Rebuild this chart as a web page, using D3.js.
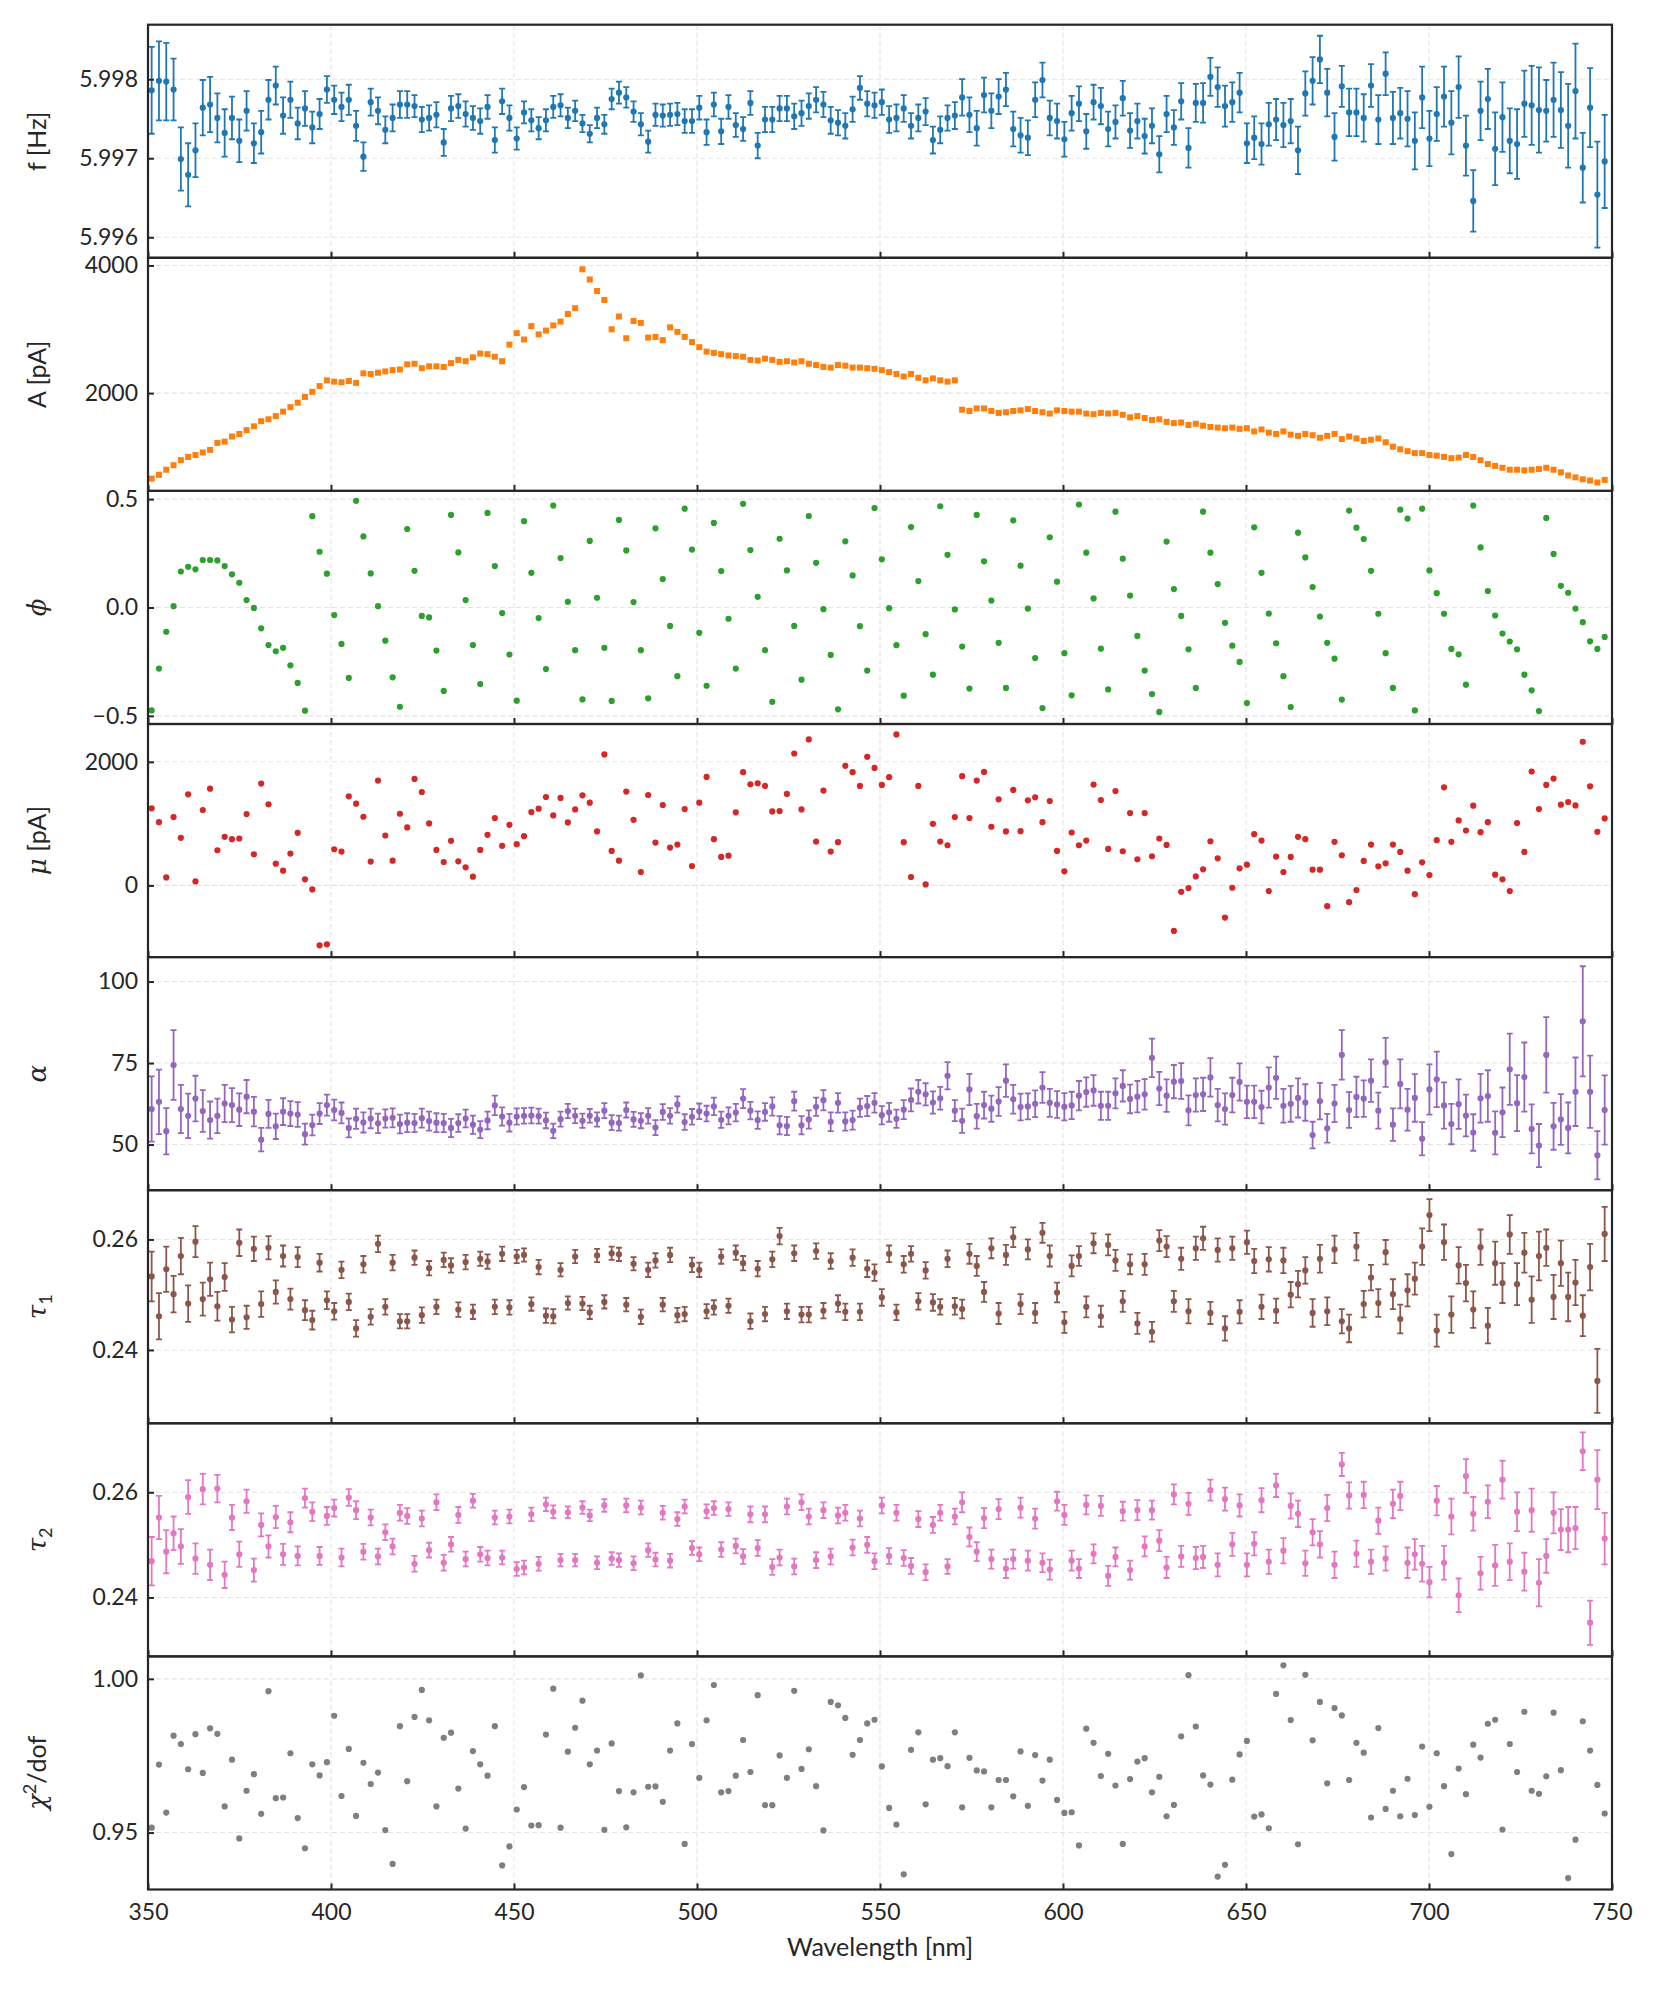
<!DOCTYPE html>
<html>
<head>
<meta charset="utf-8">
<script src="https://cdn.jsdelivr.net/npm/d3@7"></script>
<style>
  html, body { margin: 0; padding: 0; background: #fff; }
  svg { display: block; }
  .tick text { font-family: Lato, "Open Sans", sans-serif; font-size: 23px; fill: #262626; }
</style>
</head>
<body>
<svg id="chart" width="1661" height="1993"></svg>
<script>
// sampling grid, 200 wavelengths between 351 and 748 nm
var wavelengths = d3.range(200).map(function(i) { return 351 + i * 397 / 199; });

var xTicks = [350, 400, 450, 500, 550, 600, 650, 700, 750];

// f [Hz]
var freq = [
  5.99786, 5.99798, 5.99797, 5.99787, 5.99699, 5.99679, 5.99710, 5.99764, 5.99768, 5.99751,
  5.99732, 5.99751, 5.99722, 5.99760, 5.99719, 5.99733, 5.99774, 5.99792, 5.99754, 5.99774,
  5.99744, 5.99763, 5.99739, 5.99756, 5.99787, 5.99774, 5.99765, 5.99774, 5.99741, 5.99702,
  5.99771, 5.99760, 5.99736, 5.99751, 5.99768, 5.99768, 5.99766, 5.99749, 5.99751, 5.99755,
  5.99720, 5.99763, 5.99766, 5.99756, 5.99751, 5.99747, 5.99765, 5.99723, 5.99772, 5.99751,
  5.99725, 5.99758, 5.99748, 5.99738, 5.99748, 5.99765, 5.99767, 5.99751, 5.99760, 5.99744,
  5.99731, 5.99751, 5.99743, 5.99775, 5.99783, 5.99777, 5.99759, 5.99743, 5.99721, 5.99755,
  5.99754, 5.99755, 5.99756, 5.99747, 5.99747, 5.99764, 5.99733, 5.99768, 5.99734, 5.99765,
  5.99742, 5.99737, 5.99770, 5.99716, 5.99749, 5.99749, 5.99763, 5.99763, 5.99753, 5.99757,
  5.99766, 5.99774, 5.99768, 5.99748, 5.99745, 5.99741, 5.99762, 5.99789, 5.99769, 5.99767,
  5.99771, 5.99749, 5.99751, 5.99763, 5.99741, 5.99751, 5.99759, 5.99723, 5.99736, 5.99751,
  5.99754, 5.99777, 5.99755, 5.99738, 5.99780, 5.99760, 5.99778, 5.99787, 5.99737, 5.99729,
  5.99726, 5.99774, 5.99799, 5.99751, 5.99747, 5.99724, 5.99757, 5.99769, 5.99734, 5.99771,
  5.99766, 5.99737, 5.99746, 5.99776, 5.99735, 5.99747, 5.99728, 5.99741, 5.99705, 5.99756,
  5.99739, 5.99772, 5.99713, 5.99770, 5.99770, 5.99803, 5.99790, 5.99766, 5.99771, 5.99783,
  5.99719, 5.99726, 5.99718, 5.99743, 5.99749, 5.99742, 5.99747, 5.99710, 5.99782, 5.99798,
  5.99825, 5.99783, 5.99727, 5.99791, 5.99758, 5.99758, 5.99751, 5.99792, 5.99749, 5.99807,
  5.99751, 5.99757, 5.99750, 5.99722, 5.99777, 5.99725, 5.99756, 5.99778, 5.99745, 5.99790,
  5.99716, 5.99646, 5.99760, 5.99775, 5.99712, 5.99752, 5.99722, 5.99718, 5.99769, 5.99767,
  5.99761, 5.99760, 5.99774, 5.99761, 5.99741, 5.99785, 5.99688, 5.99764, 5.99654, 5.99696
];
var freqErr = [
  0.00055, 0.00050, 0.00049, 0.00039, 0.00040, 0.00040, 0.00034, 0.00035, 0.00035, 0.00031,
  0.00030, 0.00027, 0.00027, 0.00025, 0.00025, 0.00027, 0.00025, 0.00024, 0.00023, 0.00023,
  0.00020, 0.00022, 0.00020, 0.00019, 0.00017, 0.00018, 0.00018, 0.00019, 0.00019, 0.00018,
  0.00017, 0.00017, 0.00017, 0.00017, 0.00017, 0.00017, 0.00014, 0.00016, 0.00016, 0.00016,
  0.00017, 0.00016, 0.00015, 0.00016, 0.00015, 0.00016, 0.00015, 0.00016, 0.00016, 0.00016,
  0.00014, 0.00014, 0.00014, 0.00014, 0.00014, 0.00014, 0.00014, 0.00013, 0.00013, 0.00011,
  0.00011, 0.00013, 0.00012, 0.00013, 0.00014, 0.00013, 0.00013, 0.00014, 0.00014, 0.00014,
  0.00014, 0.00014, 0.00014, 0.00015, 0.00015, 0.00015, 0.00016, 0.00015, 0.00016, 0.00015,
  0.00015, 0.00015, 0.00015, 0.00016, 0.00016, 0.00016, 0.00016, 0.00016, 0.00016, 0.00016,
  0.00016, 0.00016, 0.00016, 0.00017, 0.00016, 0.00016, 0.00016, 0.00015, 0.00016, 0.00016,
  0.00016, 0.00017, 0.00017, 0.00017, 0.00016, 0.00017, 0.00017, 0.00017, 0.00017, 0.00016,
  0.00017, 0.00023, 0.00022, 0.00022, 0.00022, 0.00022, 0.00022, 0.00021, 0.00022, 0.00022,
  0.00022, 0.00022, 0.00022, 0.00022, 0.00022, 0.00022, 0.00022, 0.00022, 0.00022, 0.00022,
  0.00023, 0.00022, 0.00021, 0.00022, 0.00022, 0.00022, 0.00022, 0.00022, 0.00023, 0.00023,
  0.00022, 0.00023, 0.00025, 0.00024, 0.00025, 0.00024, 0.00025, 0.00026, 0.00025, 0.00025,
  0.00025, 0.00027, 0.00026, 0.00027, 0.00026, 0.00028, 0.00028, 0.00030, 0.00028, 0.00030,
  0.00030, 0.00030, 0.00030, 0.00026, 0.00030, 0.00030, 0.00030, 0.00027, 0.00031, 0.00027,
  0.00033, 0.00032, 0.00035, 0.00036, 0.00039, 0.00035, 0.00034, 0.00038, 0.00040, 0.00039,
  0.00038, 0.00039, 0.00037, 0.00038, 0.00046, 0.00044, 0.00041, 0.00044, 0.00042, 0.00050,
  0.00054, 0.00039, 0.00047, 0.00048, 0.00053, 0.00060, 0.00044, 0.00050, 0.00067, 0.00059
];

// A [pA]
var amplitude = [
  660, 720, 800, 870, 950, 1000, 1030, 1070, 1110, 1220,
  1240, 1320, 1360, 1420, 1480, 1560, 1590, 1640, 1710, 1780,
  1850, 1940, 2020, 2110, 2200, 2180, 2170, 2190, 2160, 2310,
  2300, 2320, 2340, 2360, 2370, 2450, 2460, 2390, 2420, 2420,
  2410, 2470, 2520, 2500, 2560, 2620, 2610, 2570, 2500, 2760,
  2940, 2840, 3050, 2920, 2980, 3060, 3120, 3240, 3330, 3940,
  3780, 3600, 3460, 3000, 3200, 2860, 3130, 3100, 2870, 2880,
  2830, 3030, 2960, 2880, 2800, 2720, 2650, 2630, 2610, 2590,
  2580, 2570, 2520, 2510, 2540, 2520, 2490, 2500, 2480, 2500,
  2460, 2440, 2410, 2400, 2440, 2430, 2400, 2400, 2390, 2380,
  2360, 2330, 2300, 2260, 2300, 2240, 2200, 2230, 2200, 2180,
  2200, 1740, 1720, 1760, 1760, 1720, 1690, 1700, 1720, 1730,
  1750, 1720, 1700, 1680, 1730, 1720, 1710, 1710, 1680, 1670,
  1690, 1680, 1690, 1660, 1620, 1640, 1610, 1580, 1590, 1550,
  1530, 1540, 1500, 1520, 1490, 1470, 1460, 1450, 1460, 1440,
  1450, 1400, 1430, 1380, 1360, 1400, 1350, 1330, 1360, 1340,
  1300, 1330, 1360, 1280, 1320, 1290, 1250, 1270, 1290, 1230,
  1160, 1120, 1090, 1060, 1060, 1030, 1020, 1000, 980, 990,
  1030, 1000, 950, 890, 860, 830, 800, 800, 790, 800,
  810, 830, 800, 760, 710, 680, 650, 630, 600, 640
];

// phase
var phase = [
  -0.475, -0.282, -0.112, 0.006, 0.166, 0.188, 0.176, 0.219, 0.219, 0.217,
  0.191, 0.153, 0.114, 0.034, -0.002, -0.096, -0.173, -0.202, -0.186, -0.267,
  -0.348, -0.476, 0.421, 0.257, 0.156, -0.035, -0.168, -0.325, 0.492, 0.328,
  0.157, 0.006, -0.153, -0.322, -0.458, 0.362, 0.169, -0.039, -0.046, -0.199,
  -0.385, 0.427, 0.254, 0.034, -0.173, -0.353, 0.436, 0.191, -0.026, -0.217,
  -0.430, 0.398, 0.160, -0.049, -0.284, 0.470, 0.228, 0.026, -0.197, -0.424,
  0.307, 0.045, -0.186, -0.431, 0.404, 0.263, 0.025, -0.197, -0.419, 0.365,
  0.131, -0.085, -0.317, 0.456, 0.267, -0.117, -0.361, 0.390, 0.168, -0.052,
  -0.282, 0.478, 0.265, 0.049, -0.197, -0.435, 0.317, 0.171, -0.085, -0.333,
  0.422, 0.206, -0.008, -0.219, -0.470, 0.305, 0.148, -0.086, -0.291, 0.459,
  0.222, -0.003, -0.174, -0.407, 0.371, 0.122, -0.123, -0.310, 0.467, 0.243,
  -0.009, -0.180, -0.374, 0.427, 0.213, 0.032, -0.163, -0.371, 0.402, 0.193,
  -0.005, -0.233, -0.464, 0.324, 0.119, -0.211, -0.405, 0.475, 0.253, 0.042,
  -0.190, -0.378, 0.442, 0.225, 0.055, -0.131, -0.291, -0.399, -0.482, 0.304,
  0.085, -0.039, -0.193, -0.371, 0.442, 0.253, 0.108, -0.071, -0.176, -0.251,
  -0.441, 0.370, 0.160, -0.028, -0.165, -0.317, -0.459, 0.345, 0.231, 0.094,
  -0.042, -0.163, -0.236, -0.425, 0.447, 0.368, 0.316, 0.169, -0.029, -0.211,
  -0.371, 0.451, 0.410, -0.475, 0.456, 0.171, 0.066, -0.029, -0.191, -0.216,
  -0.356, 0.470, 0.277, 0.076, -0.037, -0.120, -0.157, -0.193, -0.310, -0.382,
  -0.478, 0.413, 0.247, 0.100, 0.068, -0.005, -0.068, -0.156, -0.191, -0.136
];

// mu [pA]
var offset = [
  1247, 1024, 130, 1106, 770, 1474, 65, 1220, 1566, 569,
  786, 748, 759, 1154, 504, 1648, 1312, 352, 238, 515,
  851, 98, -65, -970, -954, 585, 547, 1442, 1322, 1111,
  385, 1696, 808, 401, 1160, 938, 1724, 1512, 1003, 575,
  379, 721, 390, 293, 141, 575, 818, 1089, 640, 981,
  667, 797, 1187, 1241, 1431, 1133, 1415, 1019, 1230, 1458,
  1339, 873, 2119, 558, 401, 1518, 1062, 217, 1463, 694,
  1301, 612, 661, 1236, 314, 1339, 1756, 748, 461, 482,
  1182, 1832, 1637, 1653, 1610, 1198, 1203, 1480, 2135, 1230,
  2363, 710, 1534, 547, 699, 1935, 1832, 1610, 2081, 1902,
  1626, 1751, 2444, 699, 136, 1610, 16, 997, 710, 650,
  1106, 1767, 1089, 1696, 1837, 949, 1393, 873, 1545, 878,
  1377, 1425, 1024, 1366, 558, 228, 856, 650, 726, 1631,
  1382, 591, 1528, 553, 1171, 423, 1171, 472, 759, 656,
  -737, -103, -43, 146, 260, 715, 439, -520, -38, 276,
  336, 829, 726, -92, 466, 217, 461, 786, 748, 255,
  255, -336, 705, 488, -271, -76, 396, 661, 309, 358,
  661, 542, 238, -141, 374, 168, 732, 1588, 705, 1051,
  889, 1290, 862, 1024, 173, 98, -92, 1008, 542, 1843,
  1236, 1626, 1729, 1306, 1350, 1295, 2325, 1604, 867, 1084
];

// alpha
var alpha = [
  60.9, 63.1, 54.1, 74.4, 60.9, 58.8, 64.1, 60.3, 57.5, 58.8,
  62.6, 62.1, 60.7, 64.7, 60.1, 51.5, 59.4, 55.6, 60.1, 59.5,
  59.2, 53.2, 56.0, 59.5, 62.1, 60.6, 59.7, 55.1, 57.9, 56.8,
  58.0, 56.5, 58.0, 58.2, 56.3, 56.7, 56.6, 58.1, 57.2, 56.7,
  56.6, 55.1, 56.6, 58.0, 56.1, 54.6, 57.4, 62.0, 58.6, 56.7,
  58.6, 58.8, 58.9, 58.7, 57.4, 54.2, 57.8, 60.3, 58.8, 57.3,
  58.8, 57.7, 60.4, 56.7, 56.6, 60.6, 57.7, 57.3, 58.8, 55.2,
  60.0, 58.8, 62.3, 56.9, 58.5, 60.2, 59.5, 61.7, 57.6, 58.8,
  59.8, 64.1, 60.4, 57.5, 60.0, 61.7, 55.9, 55.7, 63.3, 55.9,
  57.7, 61.6, 63.6, 57.0, 62.8, 57.1, 57.5, 61.3, 61.8, 62.8,
  59.0, 59.9, 57.9, 60.7, 63.7, 66.2, 65.4, 62.9, 64.2, 71.1,
  60.4, 57.3, 66.9, 58.7, 62.1, 61.0, 63.2, 69.6, 63.9, 61.5,
  61.7, 62.5, 67.5, 62.8, 62.3, 61.6, 62.0, 65.0, 66.1, 66.6,
  61.9, 61.9, 65.7, 68.0, 64.0, 64.7, 65.4, 76.6, 67.2, 65.0,
  69.3, 69.5, 60.5, 65.2, 65.4, 70.6, 62.1, 60.9, 65.2, 69.2,
  63.1, 63.1, 61.5, 67.5, 70.5, 61.9, 62.5, 64.3, 62.9, 52.9,
  63.3, 55.0, 62.6, 77.5, 60.6, 64.6, 64.1, 69.6, 60.4, 75.2,
  56.1, 68.6, 60.7, 64.3, 51.8, 66.9, 70.0, 62.0, 56.3, 62.4,
  58.9, 53.7, 64.2, 64.9, 53.6, 59.9, 73.1, 62.7, 70.7, 54.8,
  49.7, 77.5, 55.6, 57.7, 55.1, 66.2, 87.8, 66.2, 46.7, 60.6
];
var alphaErr = [
  10.0, 9.9, 7.1, 10.7, 7.4, 6.8, 7.0, 6.4, 5.7, 5.3,
  5.7, 5.2, 5.0, 5.1, 4.5, 3.6, 4.3, 3.9, 4.1, 3.8,
  3.8, 3.2, 3.2, 3.2, 3.2, 3.2, 3.2, 2.9, 3.1, 3.1,
  3.0, 3.0, 2.8, 2.9, 2.9, 2.9, 2.8, 2.9, 2.9, 2.9,
  2.8, 2.8, 2.7, 2.7, 2.8, 2.6, 2.7, 3.0, 2.8, 2.7,
  2.5, 2.4, 2.4, 2.3, 2.4, 2.2, 2.3, 2.2, 2.2, 2.2,
  2.1, 2.2, 2.3, 2.3, 2.3, 2.3, 2.3, 2.3, 2.4, 2.3,
  2.4, 2.4, 2.5, 2.4, 2.4, 2.4, 2.4, 2.7, 2.5, 2.6,
  2.7, 2.9, 2.7, 2.7, 2.7, 2.8, 2.8, 2.8, 2.9, 2.8,
  2.8, 2.8, 3.1, 2.9, 3.0, 2.8, 2.9, 2.8, 3.1, 3.0,
  2.8, 2.9, 2.8, 2.9, 3.5, 3.6, 3.4, 3.4, 3.5, 4.2,
  3.2, 3.7, 4.8, 3.8, 4.1, 4.0, 4.4, 5.0, 4.4, 4.1,
  4.0, 4.1, 4.7, 4.3, 4.1, 4.2, 4.2, 4.5, 4.5, 4.7,
  4.3, 4.3, 4.6, 4.8, 4.4, 4.8, 4.7, 5.9, 5.1, 5.0,
  5.1, 5.5, 4.6, 5.1, 5.1, 5.9, 5.0, 4.8, 5.3, 5.7,
  5.0, 5.0, 5.0, 6.2, 6.5, 5.2, 5.5, 6.0, 5.6, 4.1,
  5.6, 4.4, 5.7, 7.6, 5.5, 6.2, 5.6, 6.5, 5.5, 7.5,
  5.0, 7.5, 6.4, 7.3, 5.1, 7.7, 8.5, 7.1, 6.2, 7.6,
  6.4, 5.6, 7.5, 7.9, 6.6, 7.6, 10.9, 8.6, 10.6, 7.5,
  6.6, 11.6, 7.2, 7.8, 7.8, 10.5, 16.9, 11.1, 7.4, 10.6
];

// tau_1
var tau1 = [
  0.2533, 0.2461, 0.2546, 0.2501, 0.2570, 0.2484, 0.2596, 0.2492, 0.2528, 0.2479,
  0.2532, 0.2455, 0.2594, 0.2459, 0.2583, 0.2483, 0.2585, 0.2505, 0.2570, 0.2492,
  0.2568, 0.2472, 0.2454, 0.2558, 0.2490, 0.2470, 0.2545, 0.2487, 0.2439, 0.2555,
  0.2460, 0.2592, 0.2478, 0.2558, 0.2452, 0.2452, 0.2567, 0.2463, 0.2548, 0.2478,
  0.2563, 0.2553, 0.2473, 0.2559, 0.2469, 0.2565, 0.2560, 0.2478, 0.2574, 0.2477,
  0.2569, 0.2572, 0.2483, 0.2550, 0.2462, 0.2461, 0.2545, 0.2485, 0.2569, 0.2484,
  0.2468, 0.2571, 0.2487, 0.2575, 0.2573, 0.2482, 0.2556, 0.2460, 0.2545, 0.2562,
  0.2482, 0.2572, 0.2463, 0.2465, 0.2554, 0.2545, 0.2470, 0.2477, 0.2569, 0.2480,
  0.2576, 0.2557, 0.2452, 0.2547, 0.2465, 0.2564, 0.2606, 0.2470, 0.2575, 0.2464,
  0.2464, 0.2579, 0.2471, 0.2561, 0.2484, 0.2469, 0.2567, 0.2469, 0.2547, 0.2540,
  0.2495, 0.2574, 0.2468, 0.2555, 0.2574, 0.2488, 0.2544, 0.2486, 0.2478, 0.2565,
  0.2479, 0.2474, 0.2574, 0.2552, 0.2505, 0.2584, 0.2466, 0.2572, 0.2604, 0.2483,
  0.2582, 0.2467, 0.2612, 0.2570, 0.2504, 0.2450, 0.2552, 0.2570, 0.2478, 0.2593,
  0.2461, 0.2590, 0.2562, 0.2488, 0.2555, 0.2448, 0.2555, 0.2433, 0.2598, 0.2587,
  0.2488, 0.2565, 0.2470, 0.2584, 0.2602, 0.2467, 0.2581, 0.2439, 0.2584, 0.2469,
  0.2595, 0.2561, 0.2478, 0.2564, 0.2471, 0.2562, 0.2500, 0.2519, 0.2544, 0.2467,
  0.2565, 0.2470, 0.2582, 0.2452, 0.2439, 0.2587, 0.2483, 0.2531, 0.2485, 0.2577,
  0.2501, 0.2456, 0.2508, 0.2529, 0.2587, 0.2644, 0.2435, 0.2595, 0.2464, 0.2553,
  0.2521, 0.2473, 0.2586, 0.2444, 0.2557, 0.2521, 0.2609, 0.2519, 0.2576, 0.2491,
  0.2570, 0.2585, 0.2496, 0.2557, 0.2496, 0.2522, 0.2462, 0.2550, 0.2344, 0.2610
];
var tau1Err = [
  0.0045, 0.0042, 0.0041, 0.0033, 0.0033, 0.0033, 0.0028, 0.0030, 0.0030, 0.0026,
  0.0025, 0.0023, 0.0024, 0.0021, 0.0022, 0.0023, 0.0021, 0.0021, 0.0019, 0.0019,
  0.0018, 0.0018, 0.0017, 0.0016, 0.0016, 0.0015, 0.0015, 0.0015, 0.0015, 0.0015,
  0.0014, 0.0015, 0.0014, 0.0014, 0.0013, 0.0013, 0.0013, 0.0014, 0.0013, 0.0013,
  0.0013, 0.0013, 0.0013, 0.0013, 0.0013, 0.0013, 0.0013, 0.0013, 0.0013, 0.0013,
  0.0012, 0.0012, 0.0012, 0.0013, 0.0013, 0.0013, 0.0012, 0.0012, 0.0012, 0.0012,
  0.0012, 0.0012, 0.0012, 0.0012, 0.0012, 0.0012, 0.0012, 0.0013, 0.0013, 0.0013,
  0.0012, 0.0013, 0.0013, 0.0013, 0.0013, 0.0013, 0.0013, 0.0013, 0.0013, 0.0013,
  0.0013, 0.0013, 0.0014, 0.0014, 0.0013, 0.0014, 0.0015, 0.0014, 0.0014, 0.0014,
  0.0014, 0.0014, 0.0014, 0.0014, 0.0015, 0.0015, 0.0015, 0.0015, 0.0015, 0.0015,
  0.0015, 0.0015, 0.0014, 0.0015, 0.0014, 0.0015, 0.0015, 0.0015, 0.0014, 0.0015,
  0.0015, 0.0017, 0.0018, 0.0018, 0.0018, 0.0018, 0.0019, 0.0018, 0.0018, 0.0018,
  0.0018, 0.0018, 0.0018, 0.0019, 0.0018, 0.0019, 0.0019, 0.0018, 0.0019, 0.0018,
  0.0019, 0.0019, 0.0019, 0.0019, 0.0018, 0.0019, 0.0019, 0.0018, 0.0019, 0.0019,
  0.0019, 0.0020, 0.0022, 0.0021, 0.0021, 0.0020, 0.0021, 0.0022, 0.0021, 0.0021,
  0.0021, 0.0022, 0.0022, 0.0022, 0.0022, 0.0023, 0.0023, 0.0024, 0.0024, 0.0025,
  0.0025, 0.0025, 0.0025, 0.0022, 0.0025, 0.0025, 0.0024, 0.0023, 0.0025, 0.0022,
  0.0027, 0.0026, 0.0029, 0.0029, 0.0033, 0.0029, 0.0029, 0.0032, 0.0033, 0.0033,
  0.0033, 0.0033, 0.0032, 0.0032, 0.0039, 0.0036, 0.0035, 0.0038, 0.0036, 0.0042,
  0.0044, 0.0033, 0.0040, 0.0041, 0.0044, 0.0041, 0.0037, 0.0042, 0.0058, 0.0049
];

// tau_2
var tau2 = [
  0.2469, 0.2552, 0.2487, 0.2522, 0.2497, 0.2591, 0.2474, 0.2606, 0.2462, 0.2607,
  0.2443, 0.2552, 0.2482, 0.2583, 0.2452, 0.2538, 0.2497, 0.2553, 0.2482, 0.2543,
  0.2479, 0.2589, 0.2563, 0.2479, 0.2555, 0.2570, 0.2476, 0.2590, 0.2566, 0.2487,
  0.2552, 0.2478, 0.2524, 0.2497, 0.2561, 0.2555, 0.2464, 0.2550, 0.2490, 0.2581,
  0.2466, 0.2501, 0.2557, 0.2473, 0.2584, 0.2482, 0.2475, 0.2552, 0.2476, 0.2554,
  0.2454, 0.2457, 0.2558, 0.2464, 0.2577, 0.2563, 0.2471, 0.2562, 0.2471, 0.2571,
  0.2556, 0.2466, 0.2575, 0.2474, 0.2471, 0.2575, 0.2465, 0.2571, 0.2490, 0.2472,
  0.2561, 0.2470, 0.2549, 0.2573, 0.2494, 0.2482, 0.2564, 0.2570, 0.2491, 0.2568,
  0.2498, 0.2478, 0.2558, 0.2494, 0.2558, 0.2458, 0.2476, 0.2573, 0.2459, 0.2581,
  0.2554, 0.2471, 0.2566, 0.2478, 0.2556, 0.2561, 0.2495, 0.2550, 0.2500, 0.2469,
  0.2575, 0.2479, 0.2561, 0.2475, 0.2460, 0.2549, 0.2448, 0.2538, 0.2561, 0.2459,
  0.2554, 0.2581, 0.2515, 0.2487, 0.2551, 0.2473, 0.2568, 0.2455, 0.2473, 0.2571,
  0.2470, 0.2550, 0.2466, 0.2453, 0.2583, 0.2557, 0.2470, 0.2455, 0.2576, 0.2483,
  0.2574, 0.2441, 0.2477, 0.2564, 0.2452, 0.2566, 0.2497, 0.2566, 0.2508, 0.2457,
  0.2596, 0.2478, 0.2578, 0.2475, 0.2477, 0.2604, 0.2462, 0.2587, 0.2501, 0.2575,
  0.2462, 0.2502, 0.2585, 0.2468, 0.2613, 0.2489, 0.2574, 0.2559, 0.2465, 0.2524,
  0.2501, 0.2570, 0.2462, 0.2653, 0.2594, 0.2483, 0.2595, 0.2468, 0.2546, 0.2474,
  0.2578, 0.2593, 0.2466, 0.2482, 0.2464, 0.2429, 0.2584, 0.2466, 0.2554, 0.2404,
  0.2631, 0.2559, 0.2446, 0.2582, 0.2461, 0.2624, 0.2468, 0.2563, 0.2449, 0.2566,
  0.2428, 0.2479, 0.2561, 0.2529, 0.2529, 0.2532, 0.2678, 0.2352, 0.2624, 0.2512
];
var tau2Err = [
  0.0046, 0.0041, 0.0041, 0.0032, 0.0033, 0.0032, 0.0029, 0.0029, 0.0029, 0.0026,
  0.0025, 0.0024, 0.0024, 0.0022, 0.0022, 0.0022, 0.0021, 0.0021, 0.0020, 0.0019,
  0.0018, 0.0018, 0.0018, 0.0017, 0.0017, 0.0016, 0.0017, 0.0016, 0.0017, 0.0015,
  0.0015, 0.0015, 0.0015, 0.0015, 0.0015, 0.0015, 0.0015, 0.0015, 0.0014, 0.0015,
  0.0015, 0.0014, 0.0015, 0.0014, 0.0013, 0.0014, 0.0014, 0.0013, 0.0013, 0.0013,
  0.0013, 0.0013, 0.0013, 0.0013, 0.0013, 0.0012, 0.0012, 0.0011, 0.0012, 0.0012,
  0.0011, 0.0012, 0.0012, 0.0012, 0.0013, 0.0013, 0.0013, 0.0013, 0.0013, 0.0013,
  0.0013, 0.0013, 0.0013, 0.0013, 0.0013, 0.0013, 0.0013, 0.0013, 0.0014, 0.0013,
  0.0014, 0.0014, 0.0015, 0.0015, 0.0015, 0.0015, 0.0015, 0.0015, 0.0015, 0.0015,
  0.0015, 0.0015, 0.0015, 0.0015, 0.0015, 0.0015, 0.0015, 0.0015, 0.0015, 0.0015,
  0.0015, 0.0015, 0.0015, 0.0015, 0.0015, 0.0015, 0.0015, 0.0015, 0.0015, 0.0014,
  0.0015, 0.0019, 0.0018, 0.0018, 0.0019, 0.0018, 0.0019, 0.0018, 0.0018, 0.0019,
  0.0019, 0.0019, 0.0018, 0.0019, 0.0018, 0.0019, 0.0019, 0.0018, 0.0018, 0.0018,
  0.0019, 0.0019, 0.0018, 0.0018, 0.0018, 0.0019, 0.0019, 0.0018, 0.0020, 0.0020,
  0.0019, 0.0020, 0.0021, 0.0021, 0.0021, 0.0020, 0.0022, 0.0022, 0.0022, 0.0021,
  0.0022, 0.0022, 0.0023, 0.0023, 0.0022, 0.0024, 0.0024, 0.0025, 0.0024, 0.0025,
  0.0025, 0.0025, 0.0025, 0.0022, 0.0025, 0.0025, 0.0025, 0.0023, 0.0025, 0.0023,
  0.0027, 0.0027, 0.0029, 0.0029, 0.0034, 0.0029, 0.0028, 0.0032, 0.0034, 0.0032,
  0.0032, 0.0032, 0.0031, 0.0031, 0.0039, 0.0036, 0.0035, 0.0037, 0.0036, 0.0041,
  0.0045, 0.0032, 0.0039, 0.0039, 0.0043, 0.0040, 0.0036, 0.0042, 0.0056, 0.0049
];

// chi^2 / dof
var chi2 = [
  0.9516, 0.9721, 0.9565, 0.9815, 0.9788, 0.9706, 0.9820, 0.9694, 0.9839, 0.9821,
  0.9585, 0.9737, 0.9481, 0.9636, 0.9690, 0.9561, 0.9960, 0.9612, 0.9614, 0.9758,
  0.9547, 0.9449, 0.9722, 0.9686, 0.9729, 0.9880, 0.9619, 0.9772, 0.9554, 0.9727,
  0.9658, 0.9695, 0.9508, 0.9398, 0.9846, 0.9667, 0.9876, 0.9964, 0.9865, 0.9585,
  0.9808, 0.9825, 0.9643, 0.9513, 0.9765, 0.9722, 0.9685, 0.9846, 0.9393, 0.9455,
  0.9575, 0.9648, 0.9523, 0.9524, 0.9819, 0.9968, 0.9516, 0.9763, 0.9841, 0.9929,
  0.9722, 0.9767, 0.9509, 0.9790, 0.9635, 0.9517, 0.9631, 1.0011, 0.9649, 0.9650,
  0.9600, 0.9767, 0.9855, 0.9463, 0.9788, 0.9678, 0.9865, 0.9980, 0.9631, 0.9635,
  0.9685, 0.9801, 0.9697, 0.9947, 0.9589, 0.9589, 0.9751, 0.9678, 0.9961, 0.9707,
  0.9771, 0.9651, 0.9507, 0.9925, 0.9914, 0.9873, 0.9753, 0.9801, 0.9855, 0.9867,
  0.9715, 0.9580, 0.9526, 0.9364, 0.9769, 0.9826, 0.9592, 0.9737, 0.9742, 0.9716,
  0.9826, 0.9582, 0.9743, 0.9702, 0.9699, 0.9582, 0.9671, 0.9671, 0.9618, 0.9764,
  0.9587, 0.9752, 0.9669, 0.9737, 0.9606, 0.9564, 0.9566, 0.9458, 0.9838, 0.9792,
  0.9684, 0.9756, 0.9653, 0.9463, 0.9674, 0.9731, 0.9742, 0.9631, 0.9681, 0.9553,
  0.9590, 0.9813, 1.0012, 0.9845, 0.9686, 0.9656, 0.9357, 0.9395, 0.9672, 0.9754,
  0.9798, 0.9552, 0.9559, 0.9514, 0.9951, 1.0044, 0.9866, 0.9462, 1.0013, 0.9800,
  0.9925, 0.9660, 0.9905, 0.9881, 0.9671, 0.9792, 0.9760, 0.9549, 0.9840, 0.9577,
  0.9636, 0.9553, 0.9675, 0.9557, 0.9780, 0.9584, 0.9758, 0.9651, 0.9430, 0.9708,
  0.9625, 0.9786, 0.9744, 0.9854, 0.9867, 0.9510, 0.9788, 0.9697, 0.9893, 0.9636,
  0.9626, 0.9683, 0.9890, 0.9703, 0.9352, 0.9477, 0.9862, 0.9767, 0.9655, 0.9562
];

(function() {
  // layout
  var svg = d3.select('#chart');
  var left = 148, right = 1612, plotTop = 24.7, panelH = 233.1;
  var fontSans = 'Lato, "Open Sans", sans-serif';
  var fontMath = '"DejaVu Serif", "Liberation Serif", serif';

  var x = d3.scaleLinear().domain([350, 750]).range([left, right]);

  var minus = function(s) { return s.replace('-', '\u2212'); };

  var panels = [
    { label: [{t: 'f [Hz]'}], values: freq, errors: freqErr, color: '#1f77b4', marker: 'circle',
      domain: [5.99574, 5.99869], ticks: [5.996, 5.997, 5.998], fmt: d3.format('.3f') },
    { label: [{t: 'A [pA]'}], values: amplitude, color: '#ff7f0e', marker: 'square',
      domain: [468, 4120], ticks: [2000, 4000], fmt: d3.format('d') },
    { label: [{t: '\u03d5', m: true}], values: phase, color: '#2ca02c', marker: 'circle',
      domain: [-0.5375, 0.5378], ticks: [-0.5, 0, 0.5], fmt: function(d) { return minus(d3.format('.1f')(d)); } },
    { label: [{t: '\u03bc', m: true}, {t: ' [pA]'}], values: offset, color: '#d62728', marker: 'circle',
      domain: [-1160, 2612], ticks: [0, 2000], fmt: d3.format('d') },
    { label: [{t: '\u03b1', m: true}], values: alpha, errors: alphaErr, color: '#9467bd', marker: 'circle',
      domain: [36.0, 107.5], ticks: [50, 75, 100], fmt: d3.format('d') },
    { label: [{t: '\u03c4', m: true}, {t: '1', sub: true}], values: tau1, errors: tau1Err, color: '#8c564b', marker: 'circle',
      domain: [0.22673, 0.26891], ticks: [0.24, 0.26], fmt: d3.format('.2f') },
    { label: [{t: '\u03c4', m: true}, {t: '2', sub: true}], values: tau2, errors: tau2Err, color: '#e377c2', marker: 'circle',
      domain: [0.22879, 0.27312], ticks: [0.24, 0.26], fmt: d3.format('.2f') },
    { label: [{t: '\u03c7', m: true}, {t: '2', sup: true}, {t: '/dof'}], values: chi2, color: '#7f7f7f', marker: 'circle',
      domain: [0.93148, 1.00730], ticks: [0.95, 1.00], fmt: d3.format('.2f') }
  ];

  panels.forEach(function(p, i) {
    var y0 = plotTop + i * panelH, y1 = y0 + panelH;
    var y = d3.scaleLinear().domain(p.domain).range([y1, y0]);
    var g = svg.append('g');

    var clipId = 'clip' + i;
    g.append('clipPath').attr('id', clipId)
      .append('rect').attr('x', left).attr('y', y0).attr('width', right - left).attr('height', panelH);

    // grid
    var grid = g.append('g').attr('stroke', '#e3e3e3').attr('stroke-width', 1.1).attr('stroke-dasharray', '5,3');
    grid.selectAll('.vg').data(xTicks.slice(1, -1)).enter().append('line')
      .attr('x1', function(d) { return x(d); }).attr('x2', function(d) { return x(d); })
      .attr('y1', y0).attr('y2', y1);
    grid.selectAll('.hg').data(p.ticks).enter().append('line')
      .attr('x1', left).attr('x2', right)
      .attr('y1', function(d) { return y(d); }).attr('y2', function(d) { return y(d); });

    var data = p.values.map(function(v, j) {
      return { x: wavelengths[j], y: v, e: p.errors ? p.errors[j] : 0 };
    });

    var plot = g.append('g').attr('clip-path', 'url(#' + clipId + ')');

    if (p.errors) {
      var eb = plot.append('g').attr('stroke', p.color).attr('stroke-width', 1.8);
      eb.selectAll('.bar').data(data).enter().append('line')
        .attr('x1', function(d) { return x(d.x); }).attr('x2', function(d) { return x(d.x); })
        .attr('y1', function(d) { return y(d.y - d.e); }).attr('y2', function(d) { return y(d.y + d.e); });
      [-1, 1].forEach(function(s) {
        eb.selectAll('.cap' + (s + 1)).data(data).enter().append('line')
          .attr('x1', function(d) { return x(d.x) - 3; }).attr('x2', function(d) { return x(d.x) + 3; })
          .attr('y1', function(d) { return y(d.y + s * d.e); }).attr('y2', function(d) { return y(d.y + s * d.e); });
      });
    }

    if (p.marker === 'square') {
      plot.selectAll('.pt').data(data).enter().append('rect')
        .attr('x', function(d) { return x(d.x) - 3; }).attr('y', function(d) { return y(d.y) - 3; })
        .attr('width', 6).attr('height', 6).attr('fill', p.color);
    } else {
      plot.selectAll('.pt').data(data).enter().append('circle')
        .attr('cx', function(d) { return x(d.x); }).attr('cy', function(d) { return y(d.y); })
        .attr('r', 3.1).attr('fill', p.color);
    }

    // axes, ticks pointing inward
    var yAxis = d3.axisLeft(y).tickValues(p.ticks).tickFormat(p.fmt).tickSize(-6).tickPadding(10);
    var ya = g.append('g').attr('transform', 'translate(' + left + ',0)').call(yAxis);
    ya.select('.domain').remove();
    ya.selectAll('.tick line').attr('stroke', '#262626').attr('stroke-width', 2);

    var last = i === panels.length - 1;
    var xAxis = d3.axisBottom(x).tickValues(xTicks).tickSize(-6).tickPadding(14)
      .tickFormat(last ? d3.format('d') : function() { return ''; });
    var xa = g.append('g').attr('transform', 'translate(0,' + y1 + ')').call(xAxis);
    xa.select('.domain').remove();
    xa.selectAll('.tick line').attr('stroke', '#262626').attr('stroke-width', 2);

    // frame
    g.append('rect').attr('x', left).attr('y', y0).attr('width', right - left).attr('height', panelH)
      .attr('fill', 'none').attr('stroke', '#262626').attr('stroke-width', 2.2);

    // y label
    var lab = g.append('text')
      .attr('transform', 'translate(46,' + (y0 + panelH / 2) + ') rotate(-90)')
      .attr('text-anchor', 'middle')
      .attr('fill', '#262626')
      .style('font-family', fontSans)
      .style('font-size', '25px');
    p.label.forEach(function(part, k) {
      var ts = lab.append('tspan').text(part.t);
      if (part.m) ts.style('font-family', fontMath).style('font-style', 'italic').style('font-size', '26px');
      if (part.sub) ts.attr('dy', 6).style('font-size', '18px');
      if (part.sup) ts.attr('dy', -10).style('font-size', '18px');
      var prev = p.label[k - 1];
      if (prev && prev.sup && !part.sup) ts.attr('dy', 10);
    });
  });

  svg.append('text')
    .attr('x', (left + right) / 2).attr('y', 1956)
    .attr('text-anchor', 'middle')
    .attr('fill', '#262626')
    .style('font-family', fontSans)
    .style('font-size', '25px')
    .text('Wavelength [nm]');
})();
</script>
</body>
</html>
